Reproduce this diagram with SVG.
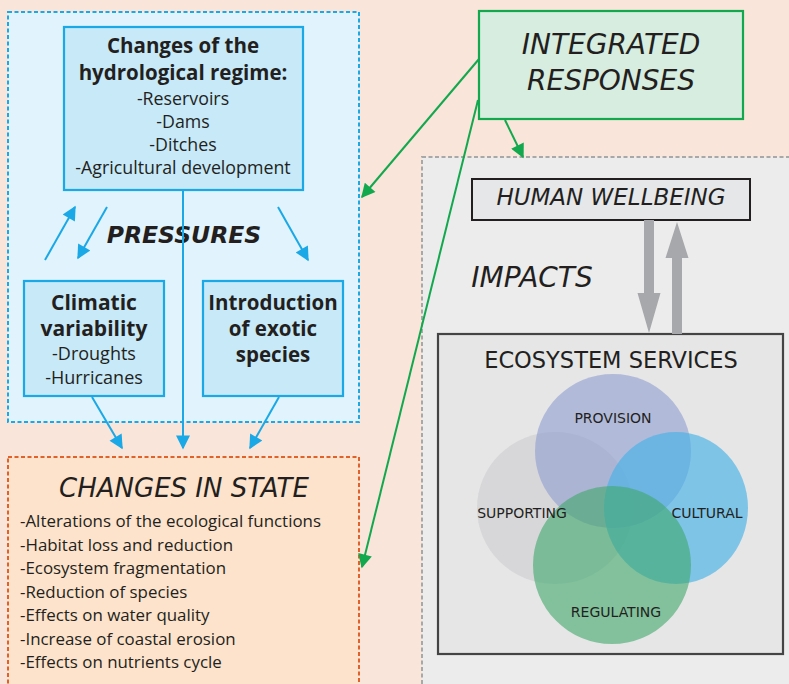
<svg xmlns="http://www.w3.org/2000/svg" width="789" height="684" viewBox="0 0 789 684">
<defs>
<style>
text{font-family:"Open Sans",Lato,"Liberation Sans",sans-serif;fill:#231f20}
.d{font-family:"DejaVu Sans","Open Sans",sans-serif}
.b{font-weight:bold}
.it{font-style:italic}
.c{text-anchor:middle}
.blue{stroke:#1aa8e6;stroke-width:2;fill:none}
.green{stroke:#12a84e;stroke-width:2;fill:none}
</style>
<marker id="ab" viewBox="0 0 10 10" refX="9" refY="5" markerWidth="16" markerHeight="14" markerUnits="userSpaceOnUse" orient="auto"><path d="M0,0 L10,5 L0,10 Z" fill="#1aa8e6"/></marker>
<marker id="ag" viewBox="0 0 10 10" refX="9" refY="5" markerWidth="16" markerHeight="14" markerUnits="userSpaceOnUse" orient="auto"><path d="M0,0 L10,5 L0,10 Z" fill="#12a84e"/></marker>
</defs>
<rect width="789" height="684" fill="#f9e5d9"/>

<g id="pressures">
<rect x="8" y="12" width="351" height="410" fill="#e1f3fc" stroke="#1aa8e6" stroke-width="2" stroke-dasharray="4,2.5"/>
<text x="184" y="243" class="d b it c" font-size="23.5">PRESSURES</text>
</g>

<g id="hydrological">
<rect x="64" y="27" width="239" height="163" fill="#c7e9f8" stroke="#1aa8e6" stroke-width="2.2"/>
<text x="183" y="53" class="b c" font-size="20.5">Changes of the</text>
<text x="183" y="80" class="b c" font-size="20.5">hydrological regime:</text>
<text x="183" y="105" class="c" font-size="17.8">-Reservoirs</text>
<text x="183" y="128" class="c" font-size="17.8">-Dams</text>
<text x="183" y="151" class="c" font-size="17.8">-Ditches</text>
<text x="183" y="174" class="c" font-size="17.8">-Agricultural development</text>
</g>

<g id="climatic">
<rect x="24" y="281" width="140" height="115" fill="#c7e9f8" stroke="#1aa8e6" stroke-width="2.2"/>
<text x="94" y="310" class="b c" font-size="21">Climatic</text>
<text x="94" y="336" class="b c" font-size="21">variability</text>
<text x="94" y="360" class="c" font-size="18">-Droughts</text>
<text x="94" y="384" class="c" font-size="18">-Hurricanes</text>
</g>

<g id="exotic">
<rect x="203" y="281" width="140" height="115" fill="#c7e9f8" stroke="#1aa8e6" stroke-width="2.2"/>
<text x="273" y="310" class="b c" font-size="20.5">Introduction</text>
<text x="273" y="336" class="b c" font-size="20.5">of exotic</text>
<text x="273" y="362" class="b c" font-size="20.5">species</text>
</g>

<g id="state">
<rect x="8" y="457" width="351" height="240" fill="#fde3cb" stroke="#e0622a" stroke-width="2" stroke-dasharray="4,2.5"/>
<text x="184" y="497" class="d it c" font-size="26">CHANGES IN STATE</text>
<g font-size="16.9">
<text x="20" y="527">-Alterations of the ecological functions</text>
<text x="20" y="551">-Habitat loss and reduction</text>
<text x="20" y="574">-Ecosystem fragmentation</text>
<text x="20" y="598">-Reduction of species</text>
<text x="20" y="621">-Effects on water quality</text>
<text x="20" y="645">-Increase of coastal erosion</text>
<text x="20" y="668">-Effects on nutrients cycle</text>
</g>
</g>

<g id="responses">
<rect x="479" y="11" width="264" height="108" fill="#d7eddf" stroke="#12a84e" stroke-width="2.2"/>
<text x="611" y="54" class="d it c" font-size="28">INTEGRATED</text>
<text x="611" y="90" class="d it c" font-size="28">RESPONSES</text>
</g>

<g id="impacts">
<rect x="422" y="157" width="380" height="540" fill="#ececec" stroke="#a8a8a8" stroke-width="2" stroke-dasharray="4,2.5"/>
<text x="532" y="287" class="d it c" font-size="28">IMPACTS</text>
</g>

<g id="wellbeing">
<rect x="472" y="179" width="278" height="41" fill="#e6e7e9" stroke="#231f20" stroke-width="2"/>
<text x="611" y="205" class="d it c" font-size="23">HUMAN WELLBEING</text>
</g>

<g id="services">
<rect x="438" y="334" width="345" height="320" fill="#e6e6e6" stroke="#444" stroke-width="2.2"/>
<text x="611" y="368" class="d c" font-size="22.5">ECOSYSTEM SERVICES</text>
<ellipse cx="555" cy="508" rx="78" ry="76" fill="#d2d2d5" opacity="0.75"/>
<ellipse cx="613" cy="451" rx="78" ry="77" fill="#8d9ccf" opacity="0.6"/>
<ellipse cx="676" cy="508" rx="72" ry="76" fill="#46b2e8" opacity="0.65"/>
<ellipse cx="612" cy="565" rx="79" ry="79" fill="#3fa86a" opacity="0.6"/>
<text x="613" y="423" class="d c" font-size="14">PROVISION</text>
<text x="522" y="518" class="d c" font-size="14">SUPPORTING</text>
<text x="707" y="518" class="d c" font-size="14">CULTURAL</text>
<text x="616" y="617" class="d c" font-size="14">REGULATING</text>
</g>

<g id="connectors">
<line x1="183" y1="190" x2="183" y2="448" class="blue" marker-end="url(#ab)"/>
<line x1="45" y1="260" x2="75" y2="207" class="blue" marker-end="url(#ab)"/>
<line x1="107" y1="207" x2="78" y2="258" class="blue" marker-end="url(#ab)"/>
<line x1="278" y1="207" x2="308" y2="260" class="blue" marker-end="url(#ab)"/>
<line x1="92" y1="397" x2="122" y2="448" class="blue" marker-end="url(#ab)"/>
<line x1="279" y1="397" x2="250" y2="448" class="blue" marker-end="url(#ab)"/>
<line x1="479" y1="59" x2="362" y2="197" class="green" marker-end="url(#ag)"/>
<line x1="478" y1="100" x2="362" y2="567" class="green" marker-end="url(#ag)"/>
<line x1="505" y1="120" x2="523" y2="157" class="green" marker-end="url(#ag)"/>
<path d="M644,220 H654 V293 H660.5 L649,333 L637.5,293 H644 Z" fill="#a7a8ab"/>
<path d="M672,334 H682 V258 H688.5 L677,222 L665.5,258 H672 Z" fill="#a7a8ab"/>
</g>
</svg>
